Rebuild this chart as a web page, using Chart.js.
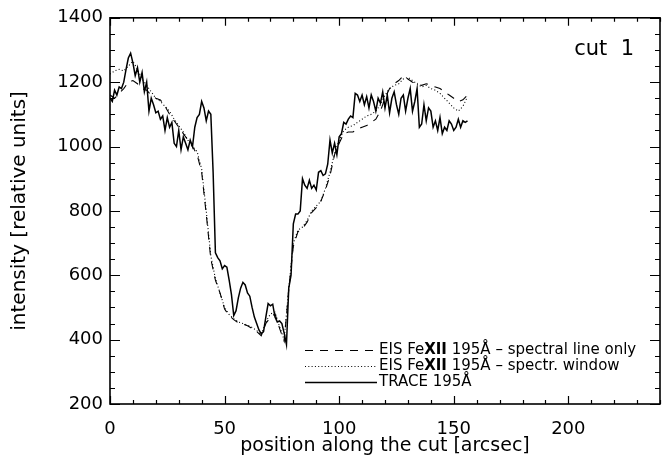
<!DOCTYPE html>
<html>
<head>
<meta charset="utf-8">
<script src="https://cdn.jsdelivr.net/npm/chart.js@4.4.1/dist/chart.umd.min.js"></script>
<style>
  html, body { margin: 0; padding: 0; background: #fff; }
</style>
</head>
<body>
<canvas id="cutChart" width="667" height="465"></canvas>
<script>
// ================== Data ==================
// TRACE 195 - one sample per arcsec, starting at 0
const traceVals = [
  1150, 1140, 1175, 1160, 1185, 1180, 1200, 1240, 1275, 1290,
  1260, 1220, 1245, 1200, 1230, 1170, 1200, 1110, 1150, 1130,
  1105, 1110, 1085, 1095, 1050, 1090, 1060, 1075, 1010, 1000,
  1050, 990, 1030, 1010, 990, 1020, 1000, 1060, 1090, 1100,
  1140, 1120, 1080, 1110, 1100, 920, 670, 655, 645, 620,
  630, 625, 585, 540, 475, 490, 530, 560, 578, 570,
  545, 535, 500, 470, 450, 430, 418, 425, 470, 512,
  505, 510, 470, 455, 458, 450, 420, 385, 560, 600,
  760, 790, 790, 800, 900, 880, 870, 895, 870, 880,
  865, 920, 925, 910, 915, 945, 1020, 980, 1010, 975,
  1030, 1040, 1075, 1070, 1085, 1095, 1090, 1165, 1160, 1140,
  1160, 1130, 1155, 1120, 1160, 1140, 1110, 1150, 1135, 1170,
  1120, 1160, 1105, 1150, 1170, 1130, 1100, 1150, 1160, 1110,
  1150, 1180, 1110, 1140, 1180, 1060, 1070, 1130, 1080, 1120,
  1110, 1060, 1080, 1050, 1090, 1040, 1060, 1050, 1080, 1070,
  1050, 1060, 1085, 1060, 1080, 1075, 1080
];
// EIS - one sample every 2 arcsec, starting at 0
const eisLineVals = [
  1160, 1150, 1165, 1180, 1200, 1205, 1195, 1180, 1175, 1160,
  1150, 1145, 1125, 1100, 1080, 1060, 1040, 1020, 1000, 975,
  920, 790, 650, 585, 545, 495, 475, 462, 452, 448,
  443, 435, 425, 412, 450, 470, 480, 435, 395, 555,
  690, 735, 745, 765, 795, 810, 830, 865, 910, 975,
  1010, 1040, 1045, 1045, 1055, 1060, 1065, 1075, 1085, 1110,
  1150, 1180, 1195, 1205, 1220, 1210, 1200, 1195, 1190, 1195,
  1190, 1185, 1180, 1170, 1160, 1150, 1140, 1145, 1160
];
const eisWindowVals = [
  1225, 1235, 1240, 1235, 1250, 1265, 1240, 1210, 1190, 1170,
  1150, 1140, 1125, 1110, 1085, 1065, 1045, 1020, 1000, 985,
  930, 800, 660, 590, 545, 500, 478, 465, 455, 450,
  445, 438, 428, 415, 455, 480, 485, 440, 400, 560,
  700, 740, 750, 770, 800, 815, 830, 870, 920, 980,
  1020, 1050, 1060, 1065, 1075, 1085, 1095, 1100, 1110, 1130,
  1160, 1180, 1190, 1195, 1210, 1215, 1205, 1195, 1185, 1190,
  1180, 1175, 1165, 1150, 1135, 1120, 1110, 1125, 1155
];
const traceStep = 1;
const eisStep = 2;
const xTicks = [0, 50, 100, 150, 200];
const yTicks = [200, 400, 600, 800, 1000, 1200, 1400];

const FONT = "'DejaVu Sans', sans-serif";
const DASH = [8, 7];
const DOT = [1, 2.3];

function toPoints(vals, step) {
  return vals.map((v, i) => ({ x: i * step, y: v }));
}

// ================== Plugins ==================
// khung + vạch chia hướng vào trong
const frameTicks = {
  id: "frameTicks",
  afterDraw(chart) {
    const { ctx, chartArea: a, scales: { x, y } } = chart;
    ctx.save();
    ctx.strokeStyle = "#000";
    ctx.lineWidth = 1.2;
    ctx.beginPath();
    for (let v = 0; v <= 240; v += 10) {
      const px = Math.round(x.getPixelForValue(v)) + 0.5;
      const len = v % 50 === 0 ? 8 : 4;
      ctx.moveTo(px, a.bottom); ctx.lineTo(px, a.bottom - len);
      ctx.moveTo(px, a.top); ctx.lineTo(px, a.top + len);
    }
    for (let v = 200; v <= 1400; v += 50) {
      const py = Math.round(y.getPixelForValue(v)) + 0.5;
      const len = v % 200 === 0 ? 10 : 5;
      ctx.moveTo(a.left, py); ctx.lineTo(a.left + len, py);
      ctx.moveTo(a.right, py); ctx.lineTo(a.right - len, py);
    }
    ctx.stroke();
    ctx.lineWidth = 1.6;
    ctx.strokeRect(a.left, a.top, a.right - a.left, a.bottom - a.top);

    // nhãn "cut 1"
    ctx.fillStyle = "#000";
    ctx.font = "21px " + FONT;
    ctx.textAlign = "right";
    ctx.textBaseline = "alphabetic";
    ctx.fillText("cut  1", 634, 55);
    ctx.restore();
  }
};

// chú thích vẽ tay
const cutLegend = {
  id: "cutLegend",
  afterDraw(chart) {
    const { ctx } = chart;
    const rows = [
      { dash: DASH, w: 1.2, parts: ["EIS Fe", "XII", " 195Å – spectral line only"] },
      { dash: DOT, w: 1.2, parts: ["EIS Fe", "XII", " 195Å – spectr. window"] },
      { dash: [], w: 1.5, parts: ["TRACE 195Å"] }
    ];
    const x0 = 305, x1 = 377, tx = 379;
    ctx.save();
    ctx.fillStyle = "#000";
    ctx.strokeStyle = "#000";
    ctx.textBaseline = "middle";
    ctx.textAlign = "left";
    rows.forEach((r, i) => {
      const yy = 350 + i * 16;
      ctx.lineWidth = r.w;
      ctx.setLineDash(r.dash);
      ctx.beginPath();
      ctx.moveTo(x0, yy + 0.5);
      ctx.lineTo(x1, yy + 0.5);
      ctx.stroke();
      let cx = tx;
      r.parts.forEach((p, k) => {
        ctx.font = (k === 1 ? "bold " : "") + "15px " + FONT;
        ctx.fillText(p, cx, yy);
        cx += ctx.measureText(p).width;
      });
    });
    ctx.restore();
  }
};

// ================== Chart ==================
const ctx = document.getElementById("cutChart").getContext("2d");

new Chart(ctx, {
  type: "line",
  data: {
    datasets: [
      {
        label: "EIS FeXII 195Å – spectral line only",
        data: toPoints(eisLineVals, eisStep),
        borderColor: "#000",
        borderWidth: 1.1,
        borderDash: DASH,
        pointRadius: 0,
        fill: false,
        tension: 0
      },
      {
        label: "EIS FeXII 195Å – spectr. window",
        data: toPoints(eisWindowVals, eisStep),
        borderColor: "#000",
        borderWidth: 1.1,
        borderDash: DOT,
        pointRadius: 0,
        fill: false,
        tension: 0
      },
      {
        label: "TRACE 195Å",
        data: toPoints(traceVals, traceStep),
        borderColor: "#000",
        borderWidth: 1.5,
        pointRadius: 0,
        fill: false,
        tension: 0
      }
    ]
  },
  options: {
    responsive: false,
    animation: false,
    devicePixelRatio: 1,
    layout: { padding: { top: 15, right: 7, left: 0, bottom: 0 } },
    plugins: {
      legend: { display: false },
      tooltip: { enabled: false }
    },
    scales: {
      x: {
        type: "linear",
        min: 0,
        max: 240,
        grid: { display: false },
        border: { display: false },
        afterFit: (s) => { s.height = 61; },
        afterBuildTicks: (s) => { s.ticks = xTicks.map(v => ({ value: v })); },
        ticks: {
          color: "#000",
          font: { family: FONT, size: 18 },
          padding: 7,
          maxRotation: 0,
          callback: (v) => String(v)
        },
        title: {
          display: true,
          text: "position along the cut [arcsec]",
          color: "#000",
          font: { family: FONT, size: 19 },
          padding: { top: 0, bottom: 8 }
        }
      },
      y: {
        type: "linear",
        min: 200,
        max: 1400,
        grid: { display: false, drawTicks: false },
        border: { display: false },
        afterFit: (s) => { s.width = 110; },
        afterBuildTicks: (s) => { s.ticks = yTicks.map(v => ({ value: v })); },
        ticks: {
          color: "#000",
          font: { family: FONT, size: 18 },
          padding: 7,
          callback: (v) => String(v)
        },
        title: {
          display: true,
          text: "intensity [relative units]",
          color: "#000",
          font: { family: FONT, size: 20 },
          padding: { top: 8, bottom: 0 }
        }
      }
    }
  },
  plugins: [frameTicks, cutLegend]
});
</script>
</body>
</html>
